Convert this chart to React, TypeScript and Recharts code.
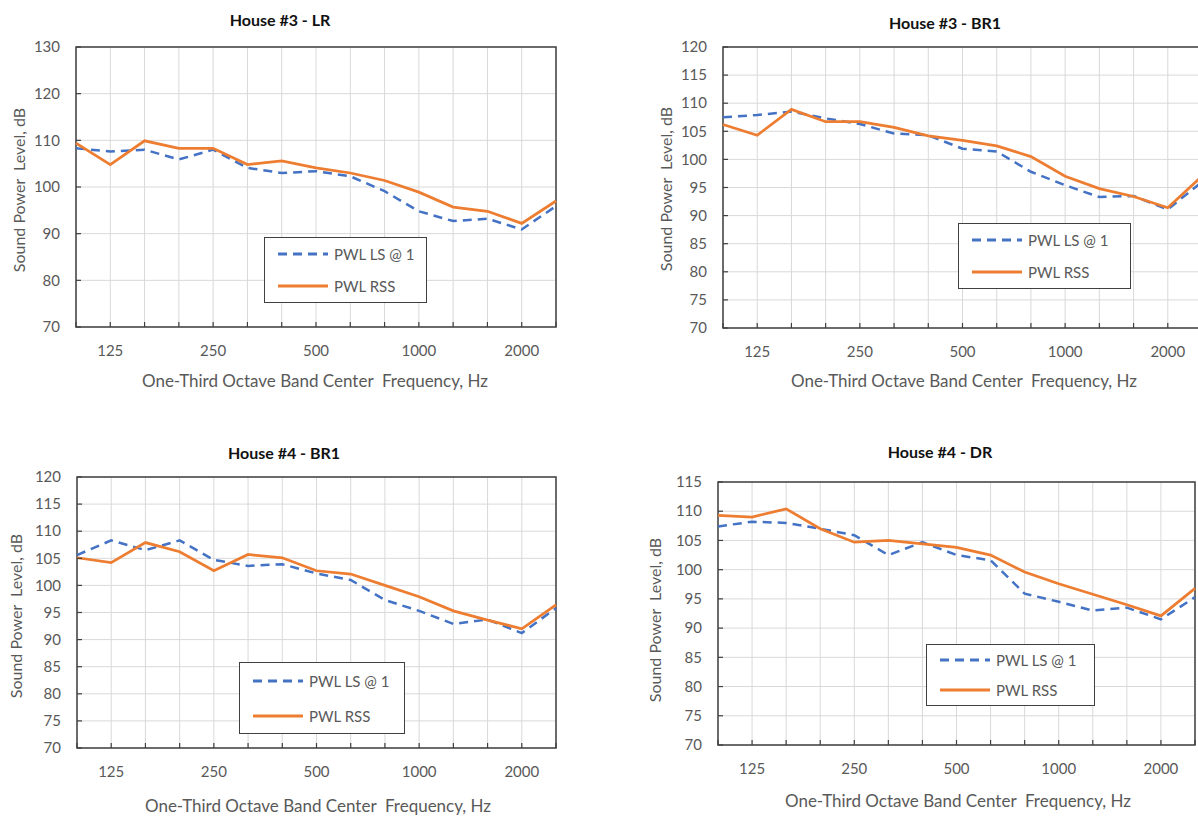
import React from "react";
import {
  LineChart, Line, XAxis, YAxis, CartesianGrid, Legend, ReferenceArea,
} from "recharts";

// one-third octave band centres, Hz
const freqs = ["100", "125", "160", "200", "250", "315", "400", "500", "630", "800", "1000", "1250", "1600", "2000", "2500"];
const freqLabels = ["125", "250", "500", "1000", "2000"];

// House #3 - LR
const h3lrLs = [108.3, 107.6, 108.0, 105.9, 108.0, 104.1, 103.0, 103.4, 102.3, 99.1, 94.8, 92.7, 93.2, 90.9, 95.9];
const h3lrRss = [109.4, 104.8, 109.9, 108.3, 108.3, 104.8, 105.6, 104.1, 103.0, 101.4, 98.9, 95.7, 94.8, 92.2, 97.0];
// House #3 - BR1
const h3br1Ls = [107.5, 107.9, 108.5, 107.3, 106.3, 104.6, 104.3, 101.9, 101.4, 97.8, 95.4, 93.3, 93.5, 91.1, 96.0];
const h3br1Rss = [106.2, 104.3, 108.9, 106.7, 106.7, 105.7, 104.2, 103.4, 102.4, 100.5, 97.0, 94.8, 93.4, 91.4, 97.0];
// House #4 - BR1
const h4br1Ls = [105.6, 108.3, 106.5, 108.3, 104.7, 103.6, 103.9, 102.2, 101.0, 97.3, 95.3, 92.9, 93.7, 91.2, 95.8];
const h4br1Rss = [105.1, 104.2, 107.9, 106.2, 102.7, 105.7, 105.1, 102.7, 102.1, 100.0, 97.9, 95.3, 93.6, 92.0, 96.4];
// House #4 - DR
const h4drLs = [107.4, 108.2, 108.0, 107.0, 105.9, 102.5, 104.7, 102.5, 101.6, 95.9, 94.5, 93.0, 93.5, 91.5, 95.3];
const h4drRss = [109.3, 109.0, 110.4, 107.0, 104.7, 105.0, 104.4, 103.8, 102.5, 99.6, 97.6, 95.8, 94.0, 92.1, 96.8];

const ticks70to130 = [70, 80, 90, 100, 110, 120, 130];
const ticks70to120 = [70, 75, 80, 85, 90, 95, 100, 105, 110, 115, 120];
const ticks70to115 = [70, 75, 80, 85, 90, 95, 100, 105, 110, 115];

const LS_NAME = "PWL LS @ 1";
const RSS_NAME = "PWL RSS";
const BLUE = "#4472C4";
const ORANGE = "#ED7D31";
const TEXT = "#595959";
const BORDER = "#404040";
const FONT = "Lato, 'Open Sans', sans-serif";

const YW = 60;
const XH = 45;
const PAD_TOP = 14;
const PAD_RIGHT = 5;

interface PanelSpec {
  title: string;
  ls: number[];
  rss: number[];
  yTicks: number[];
  plot: { left: number; top: number; right: number; bottom: number };
  titleAt: [number, number];
  yTitleAt: [number, number];
  xTitleAt: [number, number];
  legend: { left: number; top: number; width: number; rowH: number };
}

const panels: PanelSpec[] = [
  {
    title: "House #3 - LR", ls: h3lrLs, rss: h3lrRss, yTicks: ticks70to130,
    plot: { left: 76, top: 47, right: 556, bottom: 327 },
    titleAt: [280, 19], yTitleAt: [18, 190], xTitleAt: [315, 380],
    legend: { left: 264, top: 237, width: 163, rowH: 32 },
  },
  {
    title: "House #3 - BR1", ls: h3br1Ls, rss: h3br1Rss, yTicks: ticks70to120,
    plot: { left: 723, top: 47, right: 1202, bottom: 328 },
    titleAt: [945, 22], yTitleAt: [665, 189], xTitleAt: [964, 380],
    legend: { left: 958, top: 223, width: 173, rowH: 32 },
  },
  {
    title: "House #4 - BR1", ls: h4br1Ls, rss: h4br1Rss, yTicks: ticks70to120,
    plot: { left: 77, top: 477, right: 556, bottom: 748 },
    titleAt: [284, 452], yTitleAt: [15, 616], xTitleAt: [318, 805],
    legend: { left: 239, top: 662, width: 166, rowH: 35 },
  },
  {
    title: "House #4 - DR", ls: h4drLs, rss: h4drRss, yTicks: ticks70to115,
    plot: { left: 718, top: 482, right: 1195, bottom: 745 },
    titleAt: [940, 451], yTitleAt: [654, 620], xTitleAt: [958, 800],
    legend: { left: 926, top: 644, width: 169, rowH: 30 },
  },
];

function FreqTick({ x, y, payload }: any) {
  const show = freqLabels.includes(String(payload.value));
  return (
    <g>
      <line x1={x} x2={x} y1={y} y2={y - 5} stroke={BORDER} strokeWidth={1.2} />
      {show && (
        <text x={x} y={y + 29} textAnchor="middle" fill={TEXT} fontSize={15}>
          {payload.value}
        </text>
      )}
    </g>
  );
}

function LevelTick({ x, y, payload }: any) {
  return (
    <g>
      <line x1={x} x2={x + 5} y1={y} y2={y} stroke={BORDER} strokeWidth={1.2} />
      <text x={x - 16} y={y} dy="0.35em" textAnchor="end" fill={TEXT} fontSize={15}>
        {payload.value}
      </text>
    </g>
  );
}

function BoxLegend({ payload, rowH }: any) {
  return (
    <div style={{ border: `1.5px solid ${BORDER}`, background: "#fff", boxSizing: "border-box", paddingLeft: 13 }}>
      {(payload || []).map((entry: any) => (
        <div key={entry.value} style={{ display: "flex", alignItems: "center", height: rowH }}>
          <svg width={52} height={8} style={{ display: "block" }}>
            <line
              x1={0} x2={50} y1={4} y2={4}
              stroke={entry.color} strokeWidth={3}
              strokeDasharray={entry.value === LS_NAME ? "9 6" : undefined}
            />
          </svg>
          <span style={{ marginLeft: 4, color: TEXT, fontSize: 15, whiteSpace: "nowrap" }}>{entry.value}</span>
        </div>
      ))}
    </div>
  );
}

function Panel({ spec }: { spec: PanelSpec }) {
  const rows = freqs.map((f, i) => ({ freq: f, ls: spec.ls[i], rss: spec.rss[i] }));
  const plotW = spec.plot.right - spec.plot.left;
  const plotH = spec.plot.bottom - spec.plot.top;
  const chartLeft = spec.plot.left - YW;
  const chartTop = spec.plot.top - PAD_TOP;
  const yMin = spec.yTicks[0];
  const yMax = spec.yTicks[spec.yTicks.length - 1];

  return (
    <>
      <div style={{
        position: "absolute", left: spec.titleAt[0], top: spec.titleAt[1],
        transform: "translate(-50%, -50%)", fontWeight: 700, fontSize: 16, color: "#111", whiteSpace: "nowrap",
      }}>
        {spec.title}
      </div>
      <div style={{
        position: "absolute", left: spec.yTitleAt[0], top: spec.yTitleAt[1],
        transform: "translate(-50%, -50%) rotate(-90deg)", fontSize: 16, color: TEXT, whiteSpace: "pre",
      }}>
        {"Sound Power  Level, dB"}
      </div>
      <div style={{
        position: "absolute", left: spec.xTitleAt[0], top: spec.xTitleAt[1],
        transform: "translate(-50%, -50%)", fontSize: 17, color: TEXT, whiteSpace: "pre",
      }}>
        {"One-Third Octave Band Center  Frequency, Hz"}
      </div>
      <div style={{ position: "absolute", left: chartLeft, top: chartTop }}>
        <LineChart
          width={YW + plotW + PAD_RIGHT}
          height={PAD_TOP + plotH + XH}
          data={rows}
          margin={{ top: PAD_TOP, right: PAD_RIGHT, bottom: 0, left: 0 }}
        >
          <CartesianGrid stroke="#d9d9d9" />
          <XAxis
            dataKey="freq" scale="point" interval={0} height={XH}
            tickSize={0} tickMargin={0} axisLine={false} tick={<FreqTick />}
            padding={{ left: 0, right: 0 }}
          />
          <YAxis
            domain={[yMin, yMax]} ticks={spec.yTicks} interval={0} width={YW}
            tickSize={0} tickMargin={0} axisLine={false} tick={<LevelTick />}
            allowDataOverflow
          />
          <Line
            dataKey="ls" name={LS_NAME} type="linear" stroke={BLUE} strokeWidth={2.5}
            strokeDasharray="9 6" dot={false} isAnimationActive={false}
          />
          <Line
            dataKey="rss" name={RSS_NAME} type="linear" stroke={ORANGE} strokeWidth={2.75}
            dot={false} isAnimationActive={false}
          />
          <ReferenceArea
            x1="100" x2="2500" y1={yMin} y2={yMax}
            fill="none" stroke={BORDER} strokeWidth={1.5} ifOverflow="visible"
          />
          <Legend
            layout="vertical" align="center" verticalAlign="middle"
            content={<BoxLegend rowH={spec.legend.rowH} />}
            wrapperStyle={{
              left: spec.legend.left - chartLeft,
              top: spec.legend.top - chartTop,
              width: spec.legend.width,
            }}
          />
        </LineChart>
      </div>
    </>
  );
}

export default function App() {
  return (
    <div style={{
      position: "absolute", left: 0, top: 0, width: 1198, height: 817,
      overflow: "hidden", background: "#fff", fontFamily: FONT,
    }}>
      {panels.map((p) => (
        <Panel key={p.title} spec={p} />
      ))}
    </div>
  );
}
